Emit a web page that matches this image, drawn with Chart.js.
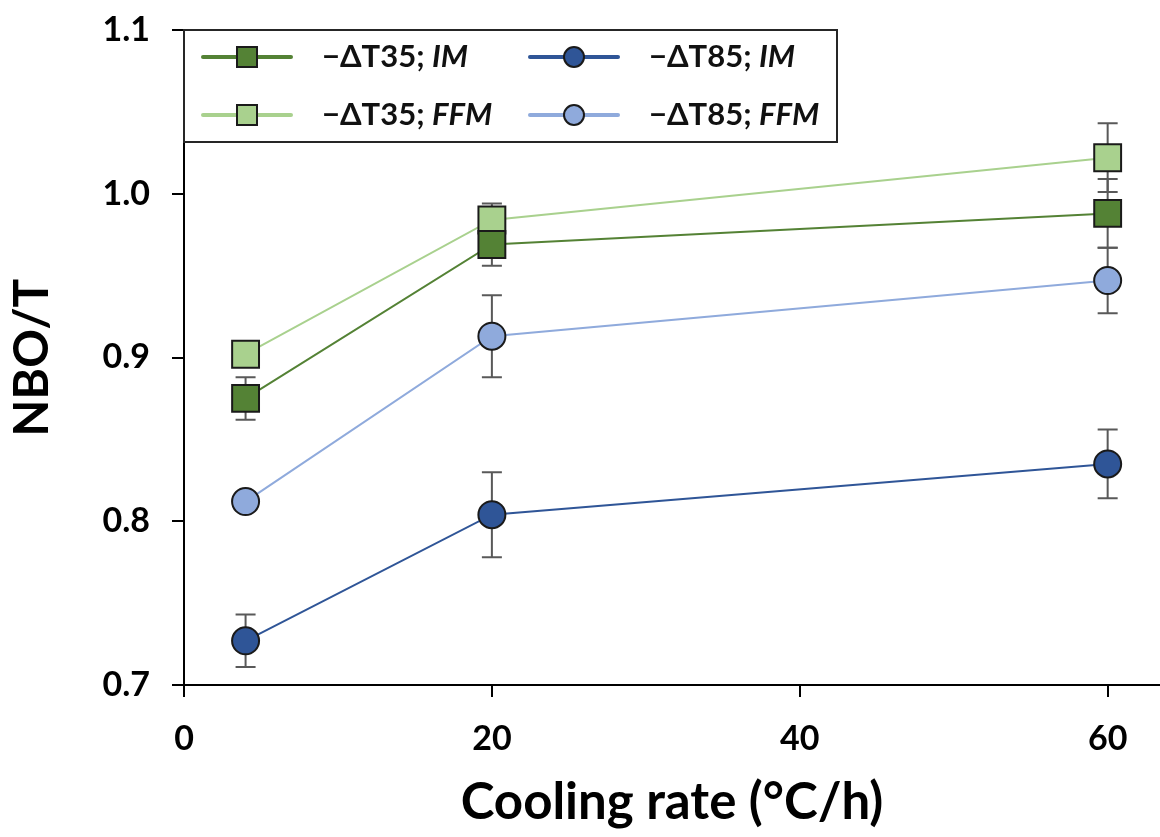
<!DOCTYPE html>
<html>
<head>
<meta charset="utf-8">
<script src="https://cdn.jsdelivr.net/npm/chart.js@4.4.1/dist/chart.umd.min.js"></script>
<style>
  html, body { margin: 0; padding: 0; background: #fff; }
  #wrap { width: 1160px; height: 837px; }
</style>
</head>
<body>
<div id="wrap"><canvas id="chart" width="1160" height="837"></canvas></div>
<script>
// data
const coolingRates = [4, 20, 60];
const xTicks = [0, 20, 40, 60];
const yTicks = [0.7, 0.8, 0.9, 1.0, 1.1];

const dt35IM = [0.875, 0.969, 0.988];
const dt35IMErr = [0.013, 0.013, 0.021];
const dt35FFM = [0.902, 0.984, 1.022];
const dt35FFMErr = [0.005, 0.010, 0.021];
const dt85IM = [0.727, 0.804, 0.835];
const dt85IMErr = [0.016, 0.026, 0.021];
const dt85FFM = [0.812, 0.913, 0.947];
const dt85FFMErr = [0.005, 0.025, 0.020];

const FONT = 'Lato, "Open Sans", sans-serif';

function series(label, name, values, errs, color, style) {
  return {
    label: label,
    tag: name,
    data: coolingRates.map((x, i) => ({ x: x, y: values[i] })),
    errors: errs,
    borderColor: color,
    backgroundColor: color,
    borderWidth: 2,
    pointStyle: style,
    pointRadius: style === 'rect' ? 19 : 13.5,
    pointHoverRadius: style === 'rect' ? 19 : 13.5,
    pointBackgroundColor: color,
    pointBorderColor: '#1a1a1a',
    pointBorderWidth: 2,
    tension: 0
  };
}

// error bars go behind the markers
const errorBars = {
  id: 'errorBars',
  beforeDatasetsDraw(chart) {
    const ctx = chart.ctx;
    const xs = chart.scales.x, ys = chart.scales.y;
    ctx.save();
    ctx.strokeStyle = '#595959';
    ctx.lineWidth = 2;
    chart.data.datasets.forEach(ds => {
      ds.data.forEach((p, i) => {
        const e = ds.errors[i];
        const px = xs.getPixelForValue(p.x);
        const top = ys.getPixelForValue(p.y + e);
        const bot = ys.getPixelForValue(p.y - e);
        ctx.beginPath();
        ctx.moveTo(px, top); ctx.lineTo(px, bot);
        ctx.moveTo(px - 10, top); ctx.lineTo(px + 10, top);
        ctx.moveTo(px - 10, bot); ctx.lineTo(px + 10, bot);
        ctx.stroke();
      });
    });
    ctx.restore();
  }
};

// legend box with italic model names
const boxLegend = {
  id: 'boxLegend',
  afterDraw(chart) {
    const ctx = chart.ctx;
    const left = chart.chartArea.left;
    const top = chart.chartArea.top;
    ctx.save();
    ctx.fillStyle = '#fff';
    ctx.fillRect(left, top, 653, 112);
    ctx.strokeStyle = '#262626';
    ctx.lineWidth = 2;
    ctx.strokeRect(left, top, 653, 112);

    const cols = [left + 19, left + 346];
    const rows = [top + 27, top + 85];
    chart.data.datasets.forEach((ds, i) => {
      const cx = cols[i >= 2 ? 1 : 0];
      const cy = rows[i % 2];
      ctx.strokeStyle = ds.borderColor;
      ctx.lineWidth = 4;
      ctx.lineCap = 'round';
      ctx.beginPath();
      ctx.moveTo(cx, cy); ctx.lineTo(cx + 88, cy);
      ctx.stroke();
      ctx.fillStyle = ds.backgroundColor;
      ctx.strokeStyle = '#1a1a1a';
      ctx.lineWidth = 2;
      ctx.beginPath();
      if (ds.pointStyle === 'rect') ctx.rect(cx + 34, cy - 10, 20, 20);
      else ctx.arc(cx + 44, cy, 10, 0, Math.PI * 2);
      ctx.fill(); ctx.stroke();

      ctx.fillStyle = '#111';
      ctx.textBaseline = 'middle';
      ctx.textAlign = 'left';
      ctx.font = 'bold 31px ' + FONT;
      const tx = cx + 119;
      ctx.fillText(ds.label, tx, cy);
      const w = ctx.measureText(ds.label).width;
      ctx.font = 'italic bold 31px ' + FONT;
      ctx.fillText(ds.tag, tx + w, cy);
    });
    ctx.restore();
  }
};

new Chart(document.getElementById('chart'), {
  type: 'line',
  data: {
    datasets: [
      series('\u2212\u0394T35; ', 'IM', dt35IM, dt35IMErr, '#548235', 'rect'),
      series('\u2212\u0394T35; ', 'FFM', dt35FFM, dt35FFMErr, '#a9d18e', 'rect'),
      series('\u2212\u0394T85; ', 'IM', dt85IM, dt85IMErr, '#2f5597', 'circle'),
      series('\u2212\u0394T85; ', 'FFM', dt85FFM, dt85FFMErr, '#8faadc', 'circle')
    ]
  },
  options: {
    responsive: false,
    animation: false,
    events: [],
    layout: { autoPadding: false, padding: { top: 30, right: 0, left: 0, bottom: 0 } },
    plugins: { legend: { display: false }, tooltip: { enabled: false } },
    scales: {
      x: {
        type: 'linear',
        min: 0,
        max: 63.4,
        afterBuildTicks: s => { s.ticks = xTicks.map(v => ({ value: v })); },
        afterFit: s => { s.height = 152; s.paddingLeft = 0; s.paddingRight = 0; },
        border: { color: '#000', width: 2 },
        grid: { drawOnChartArea: false, drawTicks: true, tickLength: 12, color: '#000', lineWidth: 2 },
        ticks: { color: '#000', padding: 22, font: { family: FONT, size: 34, weight: 'bold' }, maxRotation: 0 },
        title: { display: true, text: 'Cooling rate (\u00b0C/h)', color: '#000', padding: { top: 13 },
                 font: { family: FONT, size: 51, weight: 'bold' } }
      },
      y: {
        min: 0.7,
        max: 1.1,
        afterBuildTicks: s => { s.ticks = yTicks.map(v => ({ value: v })); },
        afterFit: s => { s.width = 184; s.paddingTop = 0; s.paddingBottom = 0; },
        border: { color: '#000', width: 2 },
        grid: { drawOnChartArea: false, drawTicks: true, tickLength: 12, color: '#000', lineWidth: 2 },
        ticks: { color: '#000', padding: 22, callback: v => v.toFixed(1),
                 font: { family: FONT, size: 34, weight: 'bold' } },
        title: { display: true, text: 'NBO/T', color: '#000', padding: { bottom: 0 },
                 font: { family: FONT, size: 48, weight: 'bold' } }
      }
    }
  },
  plugins: [errorBars, boxLegend]
});
</script>
</body>
</html>
